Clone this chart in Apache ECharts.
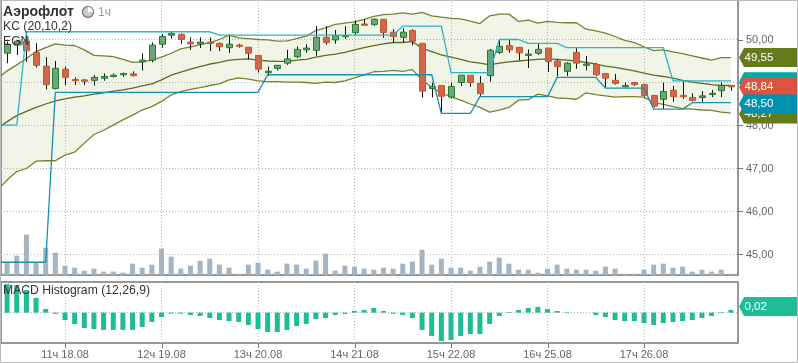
<!DOCTYPE html>
<html>
<head>
<meta charset="utf-8">
<style>
  html, body { margin: 0; padding: 0; background: #fff; }
  #chart { width: 798px; height: 363px; }
</style>
<script src="https://cdn.jsdelivr.net/npm/echarts@6/dist/echarts.min.js"></script>
</head>
<body>
<div id="chart"></div>
<script>
var tickIndexes = [6, 16, 26, 36, 46, 56, 66]
var tickLabels = ['11ч 18.08', '12ч 19.08', '13ч 20.08', '14ч 21.08', '15ч 22.08', '16ч 25.08', '17ч 26.08']
var priceTicks = [45, 46, 47, 48, 49, 50]

var opens = [49.68, 49.87, 49.96, 49.70, 49.38, 48.86, 49.31, 49.07, 49.06, 49.05, 49.10, 49.14, 49.18, 49.20, 49.48, 49.52, 49.89, 50.10, 50.12, 49.94, 49.90, 49.94, 49.91, 49.81, 49.87, 49.82, 49.63, 49.23,
  49.33, 49.45, 49.60, 49.76, 49.75, 50.05, 49.99, 50.07, 50.16, 50.36, 50.35, 50.47, 50.17, 50.05, 50.21, 49.91, 48.86, 48.93, 48.66, 49.00, 49.17, 48.98, 49.16, 49.70, 49.86, 49.82, 49.63,
  49.68, 49.80, 49.50, 49.26, 49.70, 49.40, 49.42, 49.21, 49.05, 48.90, 49.00, 48.95, 48.70, 48.61, 48.82, 48.70, 48.65, 48.65, 48.72, 48.81, 48.93]
var closes = [49.89, 49.96, 49.74, 49.40, 48.95, 49.33, 49.12, 49.04, 49.03, 49.12, 49.14, 49.17, 49.21, 49.16, 49.52, 49.87, 50.07, 50.14, 50.00, 49.90, 49.94, 49.91, 49.83, 49.89, 49.84, 49.68, 49.31, 49.26,
  49.40, 49.55, 49.77, 49.80, 50.05, 49.93, 50.09, 50.09, 50.35, 50.33, 50.47, 50.16, 50.07, 50.17, 49.96, 48.80, 48.90, 48.68, 48.91, 49.17, 49.00, 48.74, 49.75, 49.84, 49.76, 49.69, 49.66,
  49.77, 49.49, 49.37, 49.45, 49.45, 49.43, 49.18, 49.10, 48.98, 48.93, 48.95, 48.70, 48.45, 48.79, 48.67, 48.67, 48.58, 48.69, 48.75, 48.93, 48.90]
var lows = [49.45, 49.64, 49.48, 49.35, 48.84, 48.84, 48.94, 48.94, 48.94, 48.93, 49.04, 49.12, 49.13, 49.14, 49.28, 49.47, 49.81, 50.02, 49.90, 49.76, 49.80, 49.73, 49.73, 49.69, 49.81, 49.54, 49.23, 49.15,
  49.28, 49.41, 49.57, 49.69, 49.62, 49.88, 49.90, 50.01, 50.11, 50.33, 50.32, 50.04, 49.93, 49.93, 49.86, 48.65, 48.65, 48.28, 48.63, 48.92, 48.90, 48.69, 49.02, 49.66, 49.69, 49.52, 49.34,
  49.64, 49.25, 49.14, 49.15, 49.32, 49.28, 49.15, 48.89, 48.95, 48.89, 48.92, 48.67, 48.42, 48.38, 48.55, 48.62, 48.56, 48.55, 48.66, 48.66, 48.81]
var highs = [49.95, 49.96, 50.14, 49.91, 49.59, 49.50, 49.37, 49.12, 49.08, 49.17, 49.21, 49.21, 49.23, 49.26, 49.68, 49.93, 50.13, 50.17, 50.14, 50.05, 50.05, 50.05, 49.93, 50.11, 49.90, 49.82, 49.63, 49.37,
  49.40, 49.76, 49.84, 49.89, 50.31, 50.31, 50.22, 50.31, 50.44, 50.47, 50.49, 50.47, 50.24, 50.26, 50.24, 49.91, 49.00, 48.93, 49.00, 49.17, 49.17, 49.15, 49.78, 49.99, 49.99, 49.82, 49.77,
  49.91, 49.80, 49.54, 49.47, 49.80, 49.62, 49.45, 49.21, 49.20, 49.00, 49.00, 48.97, 48.71, 49.00, 48.92, 49.02, 48.75, 48.80, 48.83, 49.00, 48.93]

// KC and channel arrays start one bar before the first candle (that bar is off the left edge)
var kcUpper = [49.10, 49.27, 49.41, 49.56, 49.72, 49.81, 49.90, 49.87, 49.86, 49.76, 49.63, 49.62, 49.60, 49.54, 49.47, 49.48, 49.52, 49.59, 49.68, 49.78, 49.83, 49.88, 49.93, 50.00, 50.10, 50.04, 50.02, 50.00, 49.99,
  49.96, 49.97, 50.02, 50.08, 50.21, 50.27, 50.35, 50.38, 50.41, 50.47, 50.54, 50.58, 50.59, 50.62, 50.59, 50.63, 50.55, 50.52, 50.49, 50.48, 50.43, 50.37, 50.55, 50.59, 50.59, 50.42, 50.45,
  50.38, 50.42, 50.40, 50.39, 50.39, 50.24, 50.20, 50.15, 50.07, 49.98, 49.93, 49.83, 49.74, 49.76, 49.71, 49.67, 49.62, 49.57, 49.52, 49.58, 49.58]
var kcMiddle = [47.94, 48.09, 48.23, 48.33, 48.42, 48.50, 48.57, 48.62, 48.66, 48.69, 48.73, 48.76, 48.80, 48.83, 48.87, 48.92, 48.97, 49.06, 49.17, 49.24, 49.31, 49.37, 49.43, 49.47, 49.52, 49.54, 49.55, 49.52, 49.50,
  49.49, 49.49, 49.52, 49.54, 49.59, 49.63, 49.66, 49.70, 49.76, 49.81, 49.86, 49.90, 49.93, 49.93, 49.95, 49.80, 49.72, 49.64, 49.59, 49.54, 49.48, 49.45, 49.41, 49.45, 49.48, 49.50, 49.52,
  49.54, 49.55, 49.54, 49.52, 49.50, 49.47, 49.43, 49.38, 49.35, 49.31, 49.27, 49.22, 49.17, 49.14, 49.10, 49.05, 49.01, 48.98, 48.95, 48.93, 48.93]
var kcLower = [46.50, 46.73, 46.93, 47.00, 47.17, 47.18, 47.18, 47.31, 47.38, 47.59, 47.79, 47.89, 48.01, 48.13, 48.24, 48.36, 48.44, 48.56, 48.71, 48.79, 48.84, 48.88, 48.93, 48.97, 49.06, 49.11, 49.08, 49.04, 49.02,
  49.02, 49.01, 49.01, 49.00, 48.98, 49.01, 49.00, 49.04, 49.11, 49.18, 49.25, 49.26, 49.28, 49.26, 49.30, 49.06, 48.89, 48.75, 48.67, 48.59, 48.50, 48.42, 48.31, 48.36, 48.42, 48.59, 48.60,
  48.73, 48.69, 48.64, 48.63, 48.61, 48.76, 48.72, 48.69, 48.66, 48.67, 48.67, 48.66, 48.53, 48.49, 48.44, 48.39, 48.38, 48.36, 48.35, 48.31, 48.29]
var channelUpper = [48.01, 48.01, 48.01, 50.18, 50.18, 50.18, 50.18, 50.18, 50.18, 50.18, 50.18, 50.18, 50.18, 50.18, 50.18, 50.18, 50.18, 50.18, 50.18, 50.18, 50.18, 50.18, 50.18, 50.10, 50.10, 50.10, 50.10, 50.10, 50.10, 50.10, 50.10, 50.10, 50.10, 50.10, 50.10, 50.10, 50.10, 50.10, 50.10, 50.10, 50.10, 50.10, 50.31, 50.31, 50.31, 50.31, 50.31, 49.23, 49.23, 49.23, 49.23, 49.23, 50.00, 50.00, 50.00, 49.91, 49.91, 49.91, 49.91, 49.81, 49.81, 49.81, 49.81, 49.81, 49.81, 49.81, 49.81, 49.81, 49.81, 49.81, 49.04, 49.04, 49.04, 49.04, 49.04, 49.04, 49.04]
var channelLower = [44.82, 44.82, 44.82, 44.82, 44.82, 44.82, 48.77, 48.77, 48.77, 48.77, 48.77, 48.77, 48.77, 48.77, 48.77, 48.77, 48.77, 48.77, 48.77, 48.77, 48.77, 48.77, 48.77, 48.77, 48.77, 48.77, 48.77, 48.77, 49.18, 49.18, 49.18, 49.18, 49.18, 49.18, 49.18, 49.18, 49.18, 49.18, 49.18, 49.18, 49.18, 49.18, 49.18, 49.18, 49.18, 49.18, 48.28, 48.28, 48.28, 48.28, 48.67, 48.67, 48.67, 48.67, 48.67, 48.67, 48.67, 48.67, 49.12, 49.12, 49.12, 49.12, 49.12, 48.87, 48.87, 48.87, 48.87, 48.87, 48.38, 48.38, 48.38, 48.38, 48.53, 48.53, 48.53, 48.53, 48.53]

var volumes = [38, 58, 121, 38, 82, 67, 28, 22, 13, 19, 10, 10, 7, 34, 22, 31, 79, 55, 19, 28, 43, 49, 31, 22, 4, 31, 37, 16,
  10, 34, 31, 19, 43, 64, 13, 28, 25, 19, 16, 22, 19, 34, 40, 76, 31, 49, 22, 22, 13, 25, 40, 52, 34, 16, 16,
  7, 19, 31, 19, 16, 16, 13, 25, 19, 4, 4, 16, 31, 34, 22, 25, 10, 16, 10, 16, 4]
var macdHist = [0.190, 0.184, 0.150, 0.098, 0.024, -0.008, -0.049, -0.075, -0.102, -0.109, -0.115, -0.115, -0.115, -0.115, -0.095, -0.062, -0.029, -0.007, -0.007, -0.016, -0.022, -0.036, -0.049, -0.056, -0.062, -0.082, -0.109, -0.129,
  -0.129, -0.115, -0.089, -0.075, -0.042, -0.036, -0.016, -0.009, 0.011, 0.018, 0.031, 0.011, -0.007, -0.016, -0.036, -0.115, -0.155, -0.189, -0.182, -0.155, -0.142, -0.142, -0.075, -0.022, 0.004, 0.018, 0.031,
  0.038, 0.024, 0.011, 0.004, 0, 0, -0.016, -0.029, -0.049, -0.056, -0.056, -0.069, -0.082, -0.069, -0.062, -0.056, -0.049, -0.036, -0.022, 0.004, 0.018]

// position of each price tag on the axis, and what it says (the teal one is covered)
var tagPrices = [49.58, 49.02, 48.89, 48.50, 48.27]
var tagLabels = ['49,55', '', '48,84', '48,50', '48,27']
var tagColors = ['#667a1c', '#00a8a8', '#d9553f', '#0090b0', '#667a1c']
var tagOrder = [4, 0, 1, 2, 3] // 48,27 sits under 48,50

var chart = echarts.init(document.getElementById('chart'), null, { renderer: 'canvas' })

function bars(values) {
  return values.map(function(v, i) { return [i, v] })
}
function kcLine(values) {
  return values.map(function(v, i) { return [i - 1, v] })
}

function renderBand(params, api) {
  var pts = []
  kcUpper.forEach(function(v, i) { pts.push(api.coord([i - 1, v])) })
  for (var i = kcLower.length - 1; i >= 0; i--) pts.push(api.coord([i - 1, kcLower[i]]))
  return { type: 'polygon', shape: { points: pts }, style: { fill: 'rgba(130,170,60,0.12)' } }
}

function renderCandle(params, api) {
  var x = api.value(0)
  var o = api.value(1)
  var c = api.value(2)
  var up = c >= o
  var px = Math.round(api.coord([x, o])[0]) + 0.5
  var top = api.coord([x, Math.max(o, c)])[1]
  var bottom = api.coord([x, Math.min(o, c)])[1]
  var high = api.coord([x, api.value(4)])[1]
  var low = api.coord([x, api.value(3)])[1]
  return {
    type: 'group',
    children: [{
      type: 'line',
      shape: { x1: px, y1: high, x2: px, y2: low },
      style: { stroke: '#111', lineWidth: 1 }
    }, {
      type: 'rect',
      shape: { x: px - 3, y: top, width: 6, height: Math.max(bottom - top, 1) },
      style: {
        fill: up ? '#6fa57d' : '#d4664a',
        stroke: up ? '#257a28' : '#c25a34',
        lineWidth: 1
      }
    }]
  }
}

function renderPriceTick(params, api) {
  var y = Math.round(api.coord([0, api.value(0)])[1]) + 0.5
  return { type: 'line', shape: { x1: 738, y1: y, x2: 743, y2: y }, style: { stroke: '#777', lineWidth: 1 } }
}

function renderAxisTick(params, api) {
  var x = Math.round(api.coord([api.value(0), 0])[0]) + 0.5
  return { type: 'line', shape: { x1: x, y1: 343, x2: x, y2: 348 }, style: { stroke: '#777', lineWidth: 1 } }
}

function tagShape(y, color, label) {
  return {
    type: 'group',
    children: [{
      type: 'polygon',
      shape: { points: [[739, y], [744, y - 9.5], [797, y - 9.5], [797, y + 9.5], [744, y + 9.5]] },
      style: { fill: color }
    }, {
      type: 'text',
      style: {
        x: 744.5, y: y, text: label, fill: '#fff',
        font: '11.5px "Liberation Sans"', verticalAlign: 'middle'
      }
    }]
  }
}

function renderTag(params, api) {
  var i = api.value(1)
  return tagShape(api.coord([0, api.value(2)])[1], tagColors[i], tagLabels[i])
}

function renderMacdTag(params, api) {
  return tagShape(api.coord([0, api.value(1)])[1] - 3.5, '#1fbd96', '0,02')
}

var dotted = { show: true, lineStyle: { color: '#b5b8b5', type: [1, 2], width: 1 } }
var frameLine = '#777'

var option = {
  animation: false,
  backgroundColor: '#fff',
  textStyle: { fontFamily: '"Liberation Sans", Arial, sans-serif' },
  grid: [
    { left: 1, top: -1, width: 737, height: 276, show: true, borderColor: frameLine, borderWidth: 1.5, outerBoundsMode: 'none' },
    { left: 1, top: 282, width: 737, height: 61, show: true, borderColor: frameLine, borderWidth: 1.5, outerBoundsMode: 'none' }
  ],
  xAxis: [{
    type: 'value', gridIndex: 0, min: -0.632, max: 75.74, scale: true,
    axisLine: { show: false },
    axisTick: { show: false, customValues: tickIndexes },
    axisLabel: { show: false, customValues: tickIndexes },
    splitLine: dotted
  }, {
    type: 'value', gridIndex: 1, min: -0.632, max: 75.74, scale: true,
    axisLine: { show: false },
    axisTick: { show: false, customValues: tickIndexes },
    axisLabel: {
      show: true, customValues: tickIndexes, color: '#666', fontSize: 11, margin: 6,
      formatter: function(v) { return tickLabels[tickIndexes.indexOf(v)] }
    },
    splitLine: dotted
  }],
  yAxis: [{
    type: 'value', gridIndex: 0, position: 'right', min: 44.523, max: 50.942,
    axisLine: { show: false },
    axisTick: { show: false, customValues: priceTicks },
    axisLabel: {
      show: true, customValues: priceTicks, color: '#666', fontSize: 11, margin: 8,
      formatter: function(v) { return v.toFixed(2).replace('.', ',') }
    },
    splitLine: dotted
  }, {
    type: 'value', gridIndex: 0, min: 0, max: 828, show: false, splitLine: { show: false }
  }, {
    type: 'value', gridIndex: 1, position: 'right', min: -0.202, max: 0.204,
    axisLine: { show: false },
    axisTick: { show: false, customValues: [0] },
    axisLabel: { show: false, customValues: [0] },
    splitLine: dotted
  }],
  series: [{
    name: 'volume', type: 'bar', xAxisIndex: 0, yAxisIndex: 1, barWidth: 5, z: 2,
    itemStyle: { color: '#a3b5c3' }, data: bars(volumes)
  }, {
    name: 'kcBand', type: 'custom', xAxisIndex: 0, yAxisIndex: 0, z: 1, clip: true,
    renderItem: renderBand, data: [[0, kcUpper[0]]]
  }, {
    name: 'kcUpper', type: 'line', xAxisIndex: 0, yAxisIndex: 0, symbol: 'none', z: 3,
    lineStyle: { color: '#75822f', width: 1.3 }, data: kcLine(kcUpper)
  }, {
    name: 'kcMiddle', type: 'line', xAxisIndex: 0, yAxisIndex: 0, symbol: 'none', z: 3,
    lineStyle: { color: '#5f6a22', width: 1.3 }, data: kcLine(kcMiddle)
  }, {
    name: 'kcLower', type: 'line', xAxisIndex: 0, yAxisIndex: 0, symbol: 'none', z: 3,
    lineStyle: { color: '#75822f', width: 1.3 }, data: kcLine(kcLower)
  }, {
    name: 'candles', type: 'custom', xAxisIndex: 0, yAxisIndex: 0, z: 4, clip: true,
    renderItem: renderCandle,
    encode: { x: 0, y: [1, 2, 3, 4] },
    data: opens.map(function(o, i) { return [i, o, closes[i], lows[i], highs[i]] })
  }, {
    name: 'channelUpper', type: 'line', xAxisIndex: 0, yAxisIndex: 0, symbol: 'none', z: 5,
    lineStyle: { color: '#2fb4c4', width: 1.3 }, data: kcLine(channelUpper)
  }, {
    name: 'channelLower', type: 'line', xAxisIndex: 0, yAxisIndex: 0, symbol: 'none', z: 5,
    lineStyle: { color: '#1890b0', width: 1.3 }, data: kcLine(channelLower)
  }, {
    name: 'macd', type: 'bar', xAxisIndex: 1, yAxisIndex: 2, barWidth: 5, z: 2,
    itemStyle: { color: '#1fbd96' }, data: bars(macdHist)
  }, {
    name: 'priceTicks', type: 'custom', xAxisIndex: 0, yAxisIndex: 0, z: 6, clip: false,
    renderItem: renderPriceTick, encode: { y: 0 }, data: priceTicks.map(function(v) { return [v] })
  }, {
    name: 'timeTicks', type: 'custom', xAxisIndex: 1, yAxisIndex: 2, z: 6, clip: false,
    renderItem: renderAxisTick, encode: { x: 0 }, data: tickIndexes.map(function(v) { return [v] })
  }, {
    name: 'priceTags', type: 'custom', xAxisIndex: 0, yAxisIndex: 0, z: 8, clip: false,
    renderItem: renderTag,
    data: tagOrder.map(function(i, k) { return [k, i, tagPrices[i]] })
  }, {
    name: 'macdTag', type: 'custom', xAxisIndex: 1, yAxisIndex: 2, z: 8, clip: false,
    renderItem: renderMacdTag,
    data: [[0, macdHist[macdHist.length - 1]]]
  }],
  graphic: [
    { type: 'rect', z: 10, silent: true, shape: { x: 0.5, y: 0.5, width: 797, height: 362 }, style: { fill: 'none', stroke: '#bbb', lineWidth: 1 } },
    { type: 'text', z: 20, left: 3, top: 5, style: { text: 'Аэрофлот', fill: '#333', font: 'bold 14px "Liberation Sans"' } },
    { type: 'circle', z: 20, shape: { cx: 88, cy: 12, r: 5.5 }, style: { fill: '#ccc', stroke: '#888', lineWidth: 1.5 } },
    { type: 'sector', z: 20, shape: { cx: 88, cy: 12, r: 5, startAngle: -Math.PI / 2, endAngle: 0 }, style: { fill: '#fff' } },
    { type: 'text', z: 20, left: 98, top: 7, style: { text: '1ч', fill: '#999', font: '12px "Liberation Sans"' } },
    { type: 'text', z: 20, left: 3, top: 21, style: { text: 'KC (20,10,2)', fill: '#333', font: '12.2px "Liberation Sans"' } },
    { type: 'text', z: 20, left: 3, top: 36, style: { text: 'EGN', fill: '#333', font: '12.2px "Liberation Sans"' } },
    { type: 'text', z: 20, left: 3, top: 285, style: { text: 'MACD Histogram (12,26,9)', fill: '#333', font: '12.2px "Liberation Sans"' } }
  ]
}

chart.setOption(option)
</script>
</body>
</html>
